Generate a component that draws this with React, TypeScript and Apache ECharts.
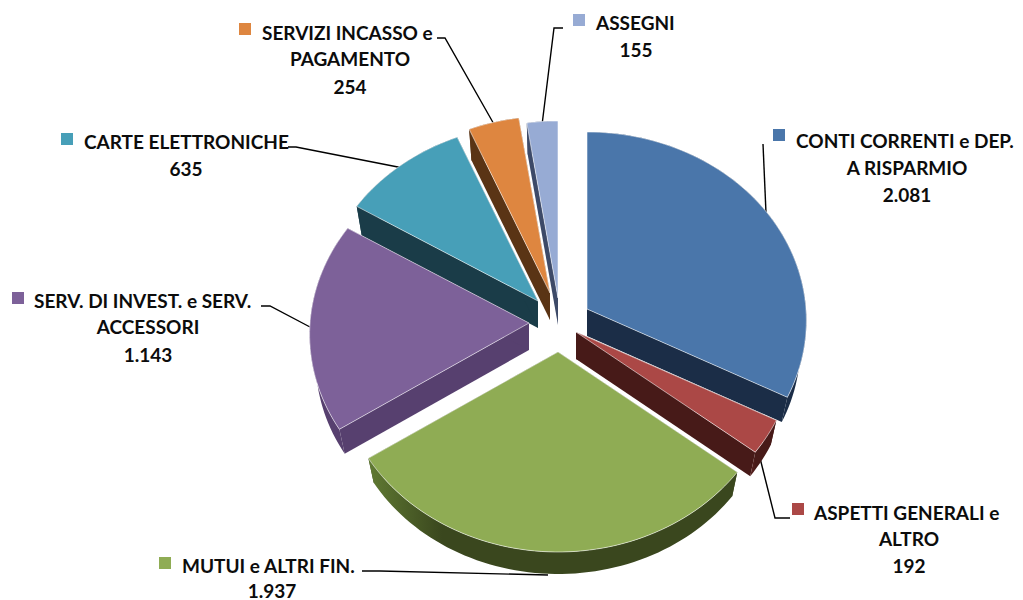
import React, { useEffect, useRef } from "react";
import * as echarts from "echarts";

// ---- data ----
const categories = [
  "CONTI CORRENTI e DEP.\nA RISPARMIO",
  "ASPETTI GENERALI e\nALTRO",
  "MUTUI e ALTRI FIN.",
  "SERV. DI INVEST. e SERV.\nACCESSORI",
  "CARTE ELETTRONICHE",
  "SERVIZI INCASSO e\nPAGAMENTO",
  "ASSEGNI",
];
const values = [2081, 192, 1937, 1143, 635, 254, 155];

// ---- styles ----
const topColors = ["#4a76aa", "#ab4846", "#8fac54", "#7d6199", "#479fb8", "#de8640", "#97abd4"];
const wallColors = ["#1b2d47", "#471a18", "#3a471e", "#57406f", "#1a3c48", "#5a3415", "#3d4a68"];
const wallEdgeColors = ["#2a4568", "#5e2523", "#607a33", "#65507f", "#1a3c48", "#5a3415", "#3d4a68"];

// ---- layout of the exploded, perspective pie ----
const RX = 219;
const RY = 188.5;
const PERSPECTIVE = 0.061;
const DEPTH = 27;
const BOTTOM_SCALE_X = 0.972;
const BOTTOM_SCALE_Y = 0.975;
const apexes = [
  [587, 309],
  [576, 332],
  [558, 352],
  [529, 323],
  [538, 301],
  [550, 293],
  [558, 298],
];
const drawOrder = [6, 5, 4, 3, 0, 1, 2];

const labelLayout = [
  { key: [773, 129], cx: 907, ys: [140, 167, 194], left: 796 },
  { key: [792, 503], cx: 909, ys: [512, 538, 565], left: 814 },
  { key: [159, 557], cx: 272, ys: [565, 590], left: 182 },
  { key: [12, 292], cx: 148, ys: [300, 326, 354], left: 34 },
  { key: [61, 133], cx: 186, ys: [141, 168], left: 84 },
  { key: [239, 23], cx: 350, ys: [32, 58, 86], left: 262 },
  { key: [573, 14], cx: 636, ys: [22, 49], left: 596 },
];
const leaders = [
  [[763, 144], [766, 213]],
  [[790, 518], [775, 518], [760, 458]],
  [[362, 571], [380, 571], [548, 575]],
  [[261, 306], [270, 306], [310, 327]],
  [[288, 147], [296, 147], [403, 168]],
  [[437, 38], [445, 38], [495, 126]],
  [[563, 28], [554, 28], [542, 125]],
];

const fmt = (v: number) => String(v).replace(/\B(?=(\d{3})+$)/g, ".");
const total = values.reduce((a, b) => a + b, 0);
const starts: number[] = [];
values.reduce((acc, v, i) => {
  starts[i] = acc;
  return acc + v;
}, 0);

function project(i: number, theta: number, r: number) {
  const u = r * Math.sin(theta);
  const v = -r * Math.cos(theta);
  const s = 1 + PERSPECTIVE * v;
  return [apexes[i][0] + RX * u * s, apexes[i][1] + RY * v * s];
}

function renderItem(params: any) {
  const i = drawOrder[params.dataIndex];
  const apex = apexes[i];
  const down = (p: number[]) => [
    apex[0] + (p[0] - apex[0]) * BOTTOM_SCALE_X,
    apex[1] + (p[1] - apex[1]) * BOTTOM_SCALE_Y + DEPTH,
  ];
  const a0 = (starts[i] / total) * Math.PI * 2;
  const a1 = ((starts[i] + values[i]) / total) * Math.PI * 2;
  const steps = Math.max(4, Math.ceil((a1 - a0) / 0.03));
  const arc: number[][] = [];
  for (let k = 0; k <= steps; k++) arc.push(project(i, a0 + ((a1 - a0) * k) / steps, 1));
  const face = (p: number[]) => [apex, p, down(p), down(apex)];
  const wallPoly = arc.concat(arc.map(down).reverse());
  return {
    type: "group",
    children: [
      { type: "polygon", shape: { points: face(arc[0]) }, style: { fill: wallColors[i] } },
      { type: "polygon", shape: { points: face(arc[arc.length - 1]) }, style: { fill: wallColors[i] } },
      {
        type: "polygon",
        shape: { points: wallPoly },
        style: {
          fill: new echarts.graphic.LinearGradient(0, 0, 1, 0, [
            { offset: 0, color: wallEdgeColors[i] },
            { offset: 0.2, color: wallColors[i] },
            { offset: 0.85, color: wallColors[i] },
            { offset: 1, color: wallColors[i] },
          ]),
        },
      },
      {
        type: "polygon",
        shape: { points: [apex, ...arc] },
        style: { fill: topColors[i], stroke: "rgba(255,255,255,0.55)", lineWidth: 1 },
      },
    ],
  };
}

const FONT = "Lato";
const FONT_SIZE = 19;

export default function App() {
  const ref = useRef<HTMLDivElement>(null);
  useEffect(() => {
    const chart = echarts.init(ref.current!, undefined, { renderer: "svg" });
    const graphics: any[] = [];
    leaders.forEach((pts) => {
      graphics.push({
        type: "polyline",
        z: 1,
        shape: { points: pts },
        style: { stroke: "#000", lineWidth: 1.4, fill: "none" },
      });
    });
    categories.forEach((c, i) => {
      const l = labelLayout[i];
      graphics.push({
        type: "rect",
        z: 3,
        shape: { x: l.key[0], y: l.key[1], width: 12, height: 12 },
        style: { fill: topColors[i] },
      });
      const lines = [...c.split("\n"), fmt(values[i])];
      lines.forEach((t, k) => {
        const first = k === 0;
        graphics.push({
          type: "text",
          z: 3,
          x: first ? l.left : l.cx,
          y: l.ys[k],
          style: {
            text: t,
            fill: "#0c0c0c",
            font: `bold ${FONT_SIZE}px ${FONT}`,
            textAlign: first ? "left" : "center",
            textVerticalAlign: "middle",
          },
        });
      });
    });
    chart.setOption({
      animation: false,
      backgroundColor: "#ffffff",
      graphic: graphics,
      series: [
        {
          type: "custom",
          coordinateSystem: "none",
          silent: true,
          z: 2,
          renderItem,
          data: drawOrder.map((i) => ({ name: categories[i], value: values[i] })),
        },
      ],
    });
    return () => chart.dispose();
  }, []);
  return (
    <div
      ref={ref}
      style={{ position: "absolute", left: 0, top: 0, width: 1023, height: 600 }}
    />
  );
}
